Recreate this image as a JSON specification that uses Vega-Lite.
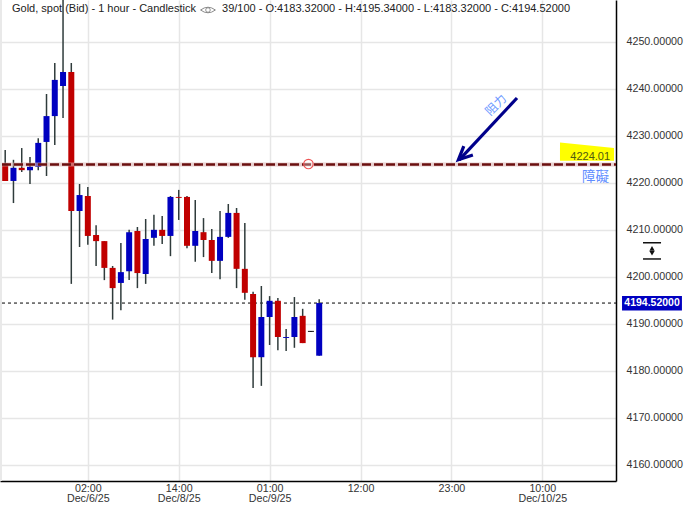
{"$schema":"https://vega.github.io/schema/vega-lite/v6.json","width":616,"height":481,"autosize":"none","padding":{"left":0,"top":0,"right":69,"bottom":24},"background":"white","view":{"stroke":null},
"config":{"font":"Liberation Sans","text":{"font":"Liberation Sans"}},
"datasets":{"candles":[
{"i":0,"open":4224.2,"high":4227.1,"low":4220.5,"close":4220.5,"dir":"down"},
{"i":1,"open":4220.5,"high":4225.0,"low":4215.8,"close":4223.3,"dir":"up"},
{"i":2,"open":4223.3,"high":4227.5,"low":4222.4,"close":4222.8,"dir":"down"},
{"i":3,"open":4222.8,"high":4225.6,"low":4219.85,"close":4223.5,"dir":"up"},
{"i":4,"open":4223.5,"high":4229.6,"low":4222.8,"close":4228.6,"dir":"up"},
{"i":5,"open":4228.8,"high":4239.0,"low":4221.55,"close":4234.3,"dir":"up"},
{"i":6,"open":4234.3,"high":4245.6,"low":4228.15,"close":4242.0,"dir":"up"},
{"i":7,"open":4240.7,"high":4263.0,"low":4233.9,"close":4243.7,"dir":"up"},
{"i":8,"open":4243.7,"high":4245.6,"low":4198.6,"close":4214.1,"dir":"down"},
{"i":9,"open":4214.1,"high":4219.85,"low":4206.45,"close":4217.5,"dir":"up"},
{"i":10,"open":4217.3,"high":4219.2,"low":4206.9,"close":4208.8,"dir":"down"},
{"i":11,"open":4209.0,"high":4211.1,"low":4202.4,"close":4207.7,"dir":"down"},
{"i":12,"open":4207.7,"high":4207.7,"low":4199.4,"close":4202.0,"dir":"down"},
{"i":13,"open":4202.0,"high":4202.4,"low":4191.0,"close":4197.7,"dir":"down"},
{"i":14,"open":4198.8,"high":4207.3,"low":4193.0,"close":4201.1,"dir":"up"},
{"i":15,"open":4201.3,"high":4210.1,"low":4199.4,"close":4209.6,"dir":"up"},
{"i":16,"open":4209.85,"high":4210.7,"low":4197.7,"close":4200.9,"dir":"down"},
{"i":17,"open":4200.7,"high":4212.4,"low":4198.6,"close":4208.15,"dir":"up"},
{"i":18,"open":4208.4,"high":4213.3,"low":4206.7,"close":4210.1,"dir":"up"},
{"i":19,"open":4210.1,"high":4213.04,"low":4207.1,"close":4208.8,"dir":"down"},
{"i":20,"open":4208.8,"high":4217.3,"low":4204.5,"close":4217.1,"dir":"up"},
{"i":21,"open":4217.1,"high":4218.6,"low":4212.2,"close":4216.9,"dir":"down"},
{"i":22,"open":4217.1,"high":4217.3,"low":4206.2,"close":4206.7,"dir":"down"},
{"i":23,"open":4206.7,"high":4216.45,"low":4203.3,"close":4209.85,"dir":"up"},
{"i":24,"open":4209.6,"high":4212.6,"low":4204.3,"close":4207.94,"dir":"down"},
{"i":25,"open":4207.94,"high":4210.3,"low":4200.9,"close":4203.5,"dir":"down"},
{"i":26,"open":4203.5,"high":4214.1,"low":4199.6,"close":4208.6,"dir":"up"},
{"i":27,"open":4208.6,"high":4215.6,"low":4208.4,"close":4213.7,"dir":"up"},
{"i":28,"open":4213.7,"high":4214.75,"low":4197.7,"close":4201.8,"dir":"down"},
{"i":29,"open":4201.8,"high":4211.55,"low":4195.2,"close":4196.7,"dir":"down"},
{"i":30,"open":4196.45,"high":4196.9,"low":4176.45,"close":4183.0,"dir":"down"},
{"i":31,"open":4183.0,"high":4198.15,"low":4176.9,"close":4191.55,"dir":"up"},
{"i":32,"open":4191.55,"high":4196.0,"low":4185.6,"close":4195.0,"dir":"up"},
{"i":33,"open":4195.0,"high":4195.6,"low":4184.5,"close":4187.3,"dir":"down"},
{"i":34,"open":4187.1,"high":4189.0,"low":4184.3,"close":4187.3,"dir":"up"},
{"i":35,"open":4187.3,"high":4195.8,"low":4185.0,"close":4191.55,"dir":"up"},
{"i":36,"open":4191.8,"high":4193.3,"low":4186.0,"close":4186.0,"dir":"down"},
{"i":37,"open":4188.6,"high":4188.6,"low":4188.4,"close":4188.4,"dir":"flat"},
{"i":38,"open":4183.32,"high":4195.34,"low":4183.32,"close":4194.52,"dir":"up"}
]},
"layer":[
{"data":{"values":[{"i":-0.629,"i2":-0.387,"v":4156.66,"v2":4259}]},"mark":{"type":"rect","fill":"#e9e9e9"},
"encoding":{"x":{"field":"i","type":"quantitative","title":null,"scale":{"domain":[-0.629,73.92],"nice":false,"zero":false,"padding":0},
"axis":{"orient":"bottom","values":[10,21,32,43,54,65],"grid":true,"gridColor":"#e6e6e6","gridWidth":1.5,"domainColor":"#000000","domainWidth":1.5,"ticks":false,"labelPadding":2,"labelFont":"Liberation Sans","labelFontSize":10.7,"labelColor":"#333333","labelLineHeight":10.5,
"labelExpr":"datum.value==10?['02:00','Dec/6/25']:datum.value==21?['14:00','Dec/8/25']:datum.value==32?['01:00','Dec/9/25']:datum.value==43?['12:00','']:datum.value==54?['23:00','']:['10:00','Dec/10/25']"}},
"x2":{"field":"i2"},
"y":{"field":"v","type":"quantitative","title":null,"scale":{"domain":[4156.66,4259],"nice":false,"zero":false,"padding":0},
"axis":{"orient":"right","values":[4160,4170,4180,4190,4200,4210,4220,4230,4240,4250],"format":".5f","grid":true,"gridColor":"#e6e6e6","gridWidth":1.5,"domainColor":"#000000","domainWidth":1.5,"ticks":false,"labelPadding":10,"labelFont":"Liberation Sans","labelFontSize":10.7,"labelColor":"#333333","labelOffset":-1}},
"y2":{"field":"v2"}}},
{"data":{"values":[{"i":-0.387,"i2":73.92,"v":4194.52}]},"mark":{"type":"rule","color":"#000000","strokeWidth":1,"strokeDash":[3,3]},
"encoding":{"x":{"field":"i","type":"quantitative","scale":{"domain":[-0.629,73.92],"nice":false,"zero":false,"padding":0}},"x2":{"field":"i2"},"y":{"field":"v","type":"quantitative","scale":{"domain":[4156.66,4259],"nice":false,"zero":false,"padding":0}}}},
{"data":{"name":"candles"},"mark":{"type":"rule","color":"#2f3b3b","strokeWidth":1.5,"clip":true},
"encoding":{"x":{"field":"i","type":"quantitative","scale":{"domain":[-0.629,73.92],"nice":false,"zero":false,"padding":0}},"y":{"field":"low","type":"quantitative","scale":{"domain":[4156.66,4259],"nice":false,"zero":false,"padding":0}},"y2":{"field":"high"}}},
{"data":{"name":"candles"},"mark":{"type":"bar","size":6,"orient":"vertical"},
"encoding":{"x":{"field":"i","type":"quantitative","scale":{"domain":[-0.629,73.92],"nice":false,"zero":false,"padding":0}},"y":{"field":"open","type":"quantitative","scale":{"domain":[4156.66,4259],"nice":false,"zero":false,"padding":0}},"y2":{"field":"close"},
"color":{"field":"dir","type":"nominal","legend":null,"scale":{"domain":["up","down","flat"],"range":["#0000c0","#c00000","#000000"]}}}},
{"data":{"values":[{"i":67.14,"v":4228.7,"v2":4224.8},{"i":73.68,"v":4227.5,"v2":4224.8}]},"mark":{"type":"area","color":"#ffff00","interpolate":"linear","orient":"vertical"},
"encoding":{"x":{"field":"i","type":"quantitative","scale":{"domain":[-0.629,73.92],"nice":false,"zero":false,"padding":0}},"y":{"field":"v","type":"quantitative","scale":{"domain":[4156.66,4259],"nice":false,"zero":false,"padding":0}},"y2":{"field":"v2"}}},
{"data":{"values":[{"i":-0.387,"i2":73.92,"v":4224.01}]},"mark":{"type":"rule","color":"#d8b0b0","strokeWidth":4,"opacity":0.6},
"encoding":{"x":{"field":"i","type":"quantitative","scale":{"domain":[-0.629,73.92],"nice":false,"zero":false,"padding":0}},"x2":{"field":"i2"},"y":{"field":"v","type":"quantitative","scale":{"domain":[4156.66,4259],"nice":false,"zero":false,"padding":0}}}},
{"data":{"values":[{"i":-0.387,"i2":73.92,"v":4224.01}]},"mark":{"type":"rule","color":"#6b1010","strokeWidth":2.5,"strokeDash":[9,3]},
"encoding":{"x":{"field":"i","type":"quantitative","scale":{"domain":[-0.629,73.92],"nice":false,"zero":false,"padding":0}},"x2":{"field":"i2"},"y":{"field":"v","type":"quantitative","scale":{"domain":[4156.66,4259],"nice":false,"zero":false,"padding":0}}}},
{"data":{"values":[{"i":36.7,"v":4224.1}]},"mark":{"type":"point","shape":"circle","size":90,"stroke":"#ee5555","strokeWidth":1.2,"fill":"#ffffff","fillOpacity":0.3},
"encoding":{"x":{"field":"i","type":"quantitative","scale":{"domain":[-0.629,73.92],"nice":false,"zero":false,"padding":0}},"y":{"field":"v","type":"quantitative","scale":{"domain":[4156.66,4259],"nice":false,"zero":false,"padding":0}}}},
{"data":{"values":[{"part":"shaft","o":1,"i":61.94,"v":4238.15},{"part":"shaft","o":2,"i":54.95,"v":4225.0},{"part":"head","o":1,"i":55.5,"v":4227.9},{"part":"head","o":2,"i":54.85,"v":4225.0},{"part":"head","o":3,"i":56.6,"v":4226.0}]},"mark":{"type":"line","color":"#00008b","strokeWidth":3.2},
"encoding":{"detail":{"field":"part"},"order":{"field":"o"},"x":{"field":"i","type":"quantitative","scale":{"domain":[-0.629,73.92],"nice":false,"zero":false,"padding":0}},"y":{"field":"v","type":"quantitative","scale":{"domain":[4156.66,4259],"nice":false,"zero":false,"padding":0}}}},
{"data":{"values":[{"i":59.4,"v":4236.66,"t":"阻力"}]},"mark":{"type":"text","font":"Noto Sans CJK TC","fontSize":12,"color":"#6f9bff","angle":315,"align":"center","baseline":"middle"},
"encoding":{"text":{"field":"t"},"x":{"field":"i","type":"quantitative","scale":{"domain":[-0.629,73.92],"nice":false,"zero":false,"padding":0}},"y":{"field":"v","type":"quantitative","scale":{"domain":[4156.66,4259],"nice":false,"zero":false,"padding":0}}}},
{"data":{"values":[{"i":71.45,"v":4221.34,"t":"障礙"}]},"mark":{"type":"text","font":"Noto Sans CJK TC","fontSize":13.5,"color":"#5f8dff","align":"center","baseline":"middle"},
"encoding":{"text":{"field":"t"},"x":{"field":"i","type":"quantitative","scale":{"domain":[-0.629,73.92],"nice":false,"zero":false,"padding":0}},"y":{"field":"v","type":"quantitative","scale":{"domain":[4156.66,4259],"nice":false,"zero":false,"padding":0}}}},
{"data":{"values":[{"i":70.8,"v":4225.6,"t":"4224.01"}]},"mark":{"type":"text","fontSize":11,"color":"#4f5a10","align":"center","baseline":"middle"},
"encoding":{"text":{"field":"t"},"x":{"field":"i","type":"quantitative","scale":{"domain":[-0.629,73.92],"nice":false,"zero":false,"padding":0}},"y":{"field":"v","type":"quantitative","scale":{"domain":[4156.66,4259],"nice":false,"zero":false,"padding":0}}}},
{"data":{"values":[{"i":74.65,"i2":81.9,"v":4196.0,"v2":4192.95}]},"mark":{"type":"rect","fill":"#0000c0"},
"encoding":{"x":{"field":"i","type":"quantitative","scale":{"domain":[-0.629,73.92],"nice":false,"zero":false,"padding":0}},"x2":{"field":"i2"},"y":{"field":"v","type":"quantitative","scale":{"domain":[4156.66,4259],"nice":false,"zero":false,"padding":0}},"y2":{"field":"v2"}}},
{"data":{"values":[{"i":78.28,"v":4194.52,"t":"4194.52000"}]},"mark":{"type":"text","fontSize":10.5,"fontWeight":"bold","color":"#ffffff","align":"center","baseline":"middle"},
"encoding":{"text":{"field":"t"},"x":{"field":"i","type":"quantitative","scale":{"domain":[-0.629,73.92],"nice":false,"zero":false,"padding":0}},"y":{"field":"v","type":"quantitative","scale":{"domain":[4156.66,4259],"nice":false,"zero":false,"padding":0}}}},
{"data":{"values":[{"i":77.19,"i2":79.37,"v":4207.35},{"i":77.19,"i2":79.37,"v":4203.9}]},"mark":{"type":"rule","color":"#111111","strokeWidth":1.5},
"encoding":{"x":{"field":"i","type":"quantitative","scale":{"domain":[-0.629,73.92],"nice":false,"zero":false,"padding":0}},"x2":{"field":"i2"},"y":{"field":"v","type":"quantitative","scale":{"domain":[4156.66,4259],"nice":false,"zero":false,"padding":0}}}},
{"data":{"values":[{"i":78.28,"v":4206.15,"s":"triangle-up"},{"i":78.28,"v":4205.1,"s":"triangle-down"}]},"mark":{"type":"point","filled":true,"color":"#111111","size":28,"opacity":1},
"encoding":{"shape":{"field":"s","type":"nominal","legend":null,"scale":{"domain":["triangle-up","triangle-down"],"range":["triangle-up","triangle-down"]}},"x":{"field":"i","type":"quantitative","scale":{"domain":[-0.629,73.92],"nice":false,"zero":false,"padding":0}},"y":{"field":"v","type":"quantitative","scale":{"domain":[4156.66,4259],"nice":false,"zero":false,"padding":0}}}},
{"data":{"values":[{"i":0.82,"v":4257.09,"t":"Gold, spot (Bid) - 1 hour - Candlestick"}]},"mark":{"type":"text","fontSize":11,"color":"#222222","align":"left","baseline":"middle"},
"encoding":{"text":{"field":"t"},"x":{"field":"i","type":"quantitative","scale":{"domain":[-0.629,73.92],"nice":false,"zero":false,"padding":0}},"y":{"field":"v","type":"quantitative","scale":{"domain":[4156.66,4259],"nice":false,"zero":false,"padding":0}}}},
{"data":{"values":[{"i":26.24,"v":4257.09,"t":"39/100 - O:4183.32000 - H:4195.34000 - L:4183.32000 - C:4194.52000"}]},"mark":{"type":"text","fontSize":11,"color":"#222222","align":"left","baseline":"middle"},
"encoding":{"text":{"field":"t"},"x":{"field":"i","type":"quantitative","scale":{"domain":[-0.629,73.92],"nice":false,"zero":false,"padding":0}},"y":{"field":"v","type":"quantitative","scale":{"domain":[4156.66,4259],"nice":false,"zero":false,"padding":0}}}},
{"data":{"values":[{"i":24.54,"v":4256.87}]},"mark":{"type":"point","size":220,"stroke":"#8a8a8a","strokeWidth":1,"filled":false,"opacity":1,"shape":"M-1,0 Q0,-0.75 1,0 Q0,0.75 -1,0 Z M-0.3,0 A0.3,0.3 0 1 1 0.3,0 A0.3,0.3 0 1 1 -0.3,0 Z"},
"encoding":{"x":{"field":"i","type":"quantitative","scale":{"domain":[-0.629,73.92],"nice":false,"zero":false,"padding":0}},"y":{"field":"v","type":"quantitative","scale":{"domain":[4156.66,4259],"nice":false,"zero":false,"padding":0}}}}
]}
